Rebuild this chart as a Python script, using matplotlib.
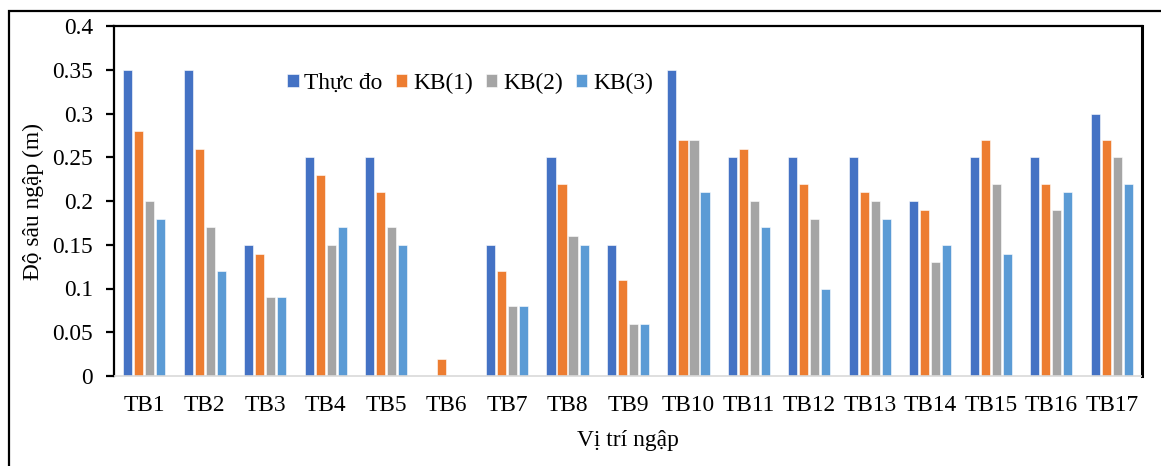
import matplotlib
matplotlib.use("Agg")
import matplotlib.pyplot as plt
import numpy as np
from matplotlib.patches import Rectangle

categories = ["TB1", "TB2", "TB3", "TB4", "TB5", "TB6", "TB7", "TB8", "TB9",
              "TB10", "TB11", "TB12", "TB13", "TB14", "TB15", "TB16", "TB17"]
thuc_do = [0.35, 0.35, 0.15, 0.25, 0.25, 0.0, 0.15, 0.25, 0.15, 0.35, 0.25, 0.25, 0.25, 0.20, 0.25, 0.25, 0.30]
kb1 = [0.28, 0.26, 0.14, 0.23, 0.21, 0.02, 0.12, 0.22, 0.11, 0.27, 0.26, 0.22, 0.21, 0.19, 0.27, 0.22, 0.27]
kb2 = [0.20, 0.17, 0.09, 0.15, 0.17, 0.0, 0.08, 0.16, 0.06, 0.27, 0.20, 0.18, 0.20, 0.13, 0.22, 0.19, 0.25]
kb3 = [0.18, 0.12, 0.09, 0.17, 0.15, 0.0, 0.08, 0.15, 0.06, 0.21, 0.17, 0.10, 0.18, 0.15, 0.14, 0.21, 0.22]
series_names = ["Thực đo", "KB(1)", "KB(2)", "KB(3)"]
colors = ["#4472C4", "#ED7D31", "#A5A5A5", "#5B9BD5"]
yticks = [0, 0.05, 0.1, 0.15, 0.2, 0.25, 0.3, 0.35, 0.4]
ytick_labels = ["0", "0.05", "0.1", "0.15", "0.2", "0.25", "0.3", "0.35", "0.4"]

plt.rcParams['font.family'] = ['Liberation Serif', 'DejaVu Serif']
FS = 16.8

fig = plt.figure(figsize=(11.61, 4.66), dpi=100)
W, H = 1161, 466
L, R, T, B = 114, 1142, 26, 376
ax = fig.add_axes([L / W, 1 - B / H, (R - L) / W, (B - T) / H])

x = np.arange(len(categories))
step = 0.182
width = 0.15
for i, (vals, name, c) in enumerate(zip([thuc_do, kb1, kb2, kb3], series_names, colors)):
    ax.bar(x + (i - 1.5) * step, vals, width=width, color=c, label=name,
           edgecolor="white", linewidth=0.4, zorder=2)

ax.set_xlim(-0.5, len(categories) - 0.5)
ax.set_ylim(0, 0.4)
ax.set_yticks(yticks)
ax.set_yticklabels(ytick_labels, fontsize=FS)
ax.set_xticks(x)
ax.set_xticklabels(categories, fontsize=FS)
ax.tick_params(axis='x', length=0, pad=14)
ax.tick_params(axis='y', direction='out', length=6, width=1.6, pad=9)

for s in ['left', 'top', 'right']:
    ax.spines[s].set_color('black')
    ax.spines[s].set_linewidth(1.6)
ax.spines['right'].set_linewidth(2.2)
ax.spines['bottom'].set_color('#D9D9D9')
ax.spines['bottom'].set_linewidth(1.2)
ax.spines['bottom'].set_capstyle('butt')

ax.set_ylabel("Độ sâu ngập (m)", fontsize=FS, labelpad=6)
ax.set_xlabel("Vị trí ngập", fontsize=FS, labelpad=10)

leg = ax.legend(loc='center', bbox_to_anchor=((470 - L) / (R - L), 1 - (83 - T) / (B - T)), ncol=4,
                frameon=False, fontsize=FS, handlelength=0.5, handleheight=0.5,
                handletextpad=0.25, columnspacing=0.55, borderaxespad=0)

fig.patches.append(Rectangle((9 / W, -0.01), 1.02, 1 - 11 / H + 0.01, transform=fig.transFigure,
                             fill=False, edgecolor='black', linewidth=1.6, clip_on=False))

fig.savefig("out.png", dpi=100)
